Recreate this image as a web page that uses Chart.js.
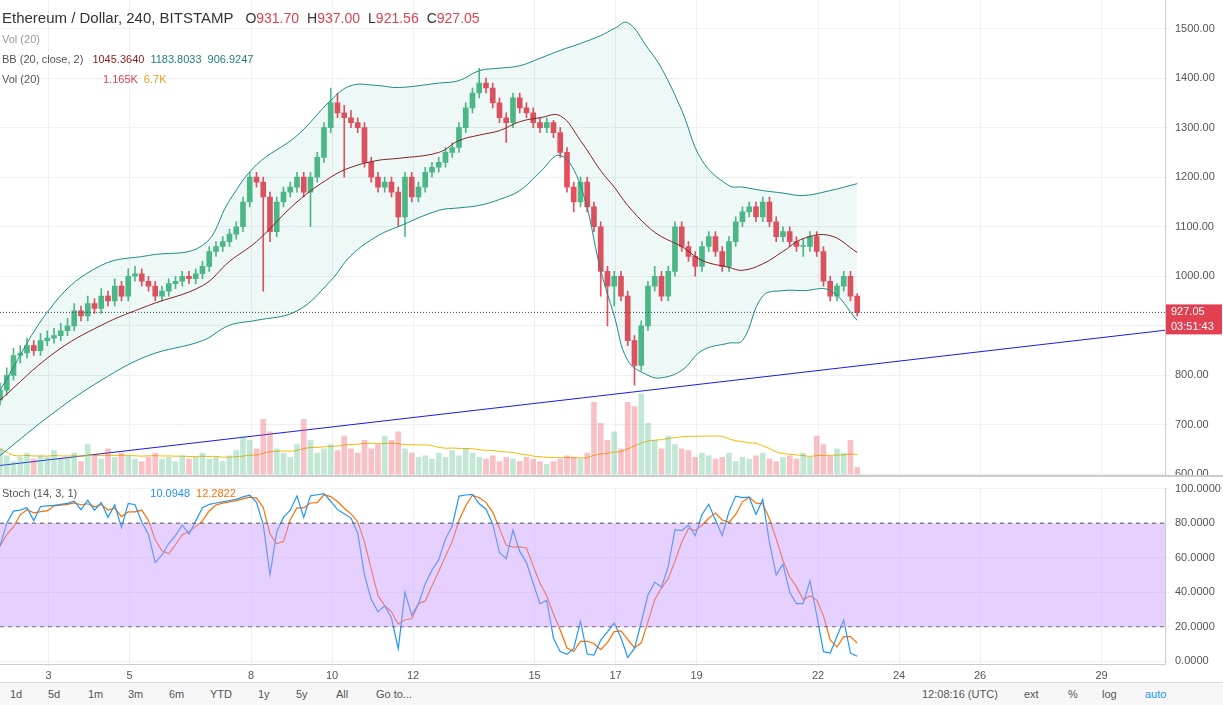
<!DOCTYPE html>
<html><head><meta charset="utf-8">
<script src="https://cdn.jsdelivr.net/npm/chart.js@4"></script>
<style>
body{margin:0;width:1223px;height:705px;overflow:hidden;background:#fff;font-family:"Liberation Sans",Arial,sans-serif;position:relative}
#main{position:absolute;left:0;top:-12px}
#stoch{position:absolute;left:0;top:476px}
.lg{position:absolute;left:2px;font-size:11px;color:#555;white-space:nowrap}
.lg b{font-weight:normal;margin-left:6px}
#title{top:9px;font-size:15px;color:#333}
#title span{font-size:14px;margin-left:8px}
#bar{position:absolute;left:0;top:682px;width:1223px;height:23px;background:#f7f7f7;border-top:1px solid #ddd;font-size:11px;color:#555}
#bar span{position:absolute;top:5px}
#sep{position:absolute;left:0;top:475px;width:1223px;height:2px;background:#ccc}
</style></head><body>
<canvas id="main" width="1223" height="499"></canvas>
<div id="sep"></div>
<canvas id="stoch" width="1223" height="205"></canvas>
<div class="lg" id="title">Ethereum / Dollar, 240, BITSTAMP <span style="color:#333">O<b style="color:#e04050;margin:0">931.70</b></span><span>H<b style="color:#e04050;margin:0">937.00</b></span><span>L<b style="color:#e04050;margin:0">921.56</b></span><span>C<b style="color:#e04050;margin:0">927.05</b></span></div>
<div class="lg" style="top:33px;color:#999">Vol (20)</div>
<div class="lg" style="top:53px">BB (20, close, 2) <b style="color:#8b1a1a">1045.3640</b><b style="color:#1f7f7f">1183.8033</b><b style="color:#1f7f7f">906.9247</b></div>
<div class="lg" style="top:73px">Vol (20) <b style="color:#e04050;margin-left:60px">1.165K</b><b style="color:#e0a020">6.7K</b></div>
<div class="lg" style="top:487px">Stoch (14, 3, 1) <b style="color:#2196f3;margin-left:70px">10.0948</b><b style="color:#ff6d00">12.2822</b></div>
<div id="bar">
<span style="left:10px">1d</span><span style="left:48px">5d</span><span style="left:88px">1m</span><span style="left:128px">3m</span><span style="left:169px">6m</span><span style="left:210px">YTD</span><span style="left:258px">1y</span><span style="left:296px">5y</span><span style="left:336px">All</span><span style="left:376px">Go to...</span>
<span style="left:922px">12:08:16 (UTC)</span><span style="left:1024px">ext</span><span style="left:1068px">%</span><span style="left:1102px">log</span><span style="left:1145px;color:#2196f3">auto</span>
</div>
<script>
const closes = [770,800,840,845,860,850,870,875,880,890,
 900,930,920,945,935,960,950,980,960,1000,
 1005,990,980,960,970,985,990,1000,995,1005,
 1020,1050,1060,1070,1085,1100,1150,1200,1190,1160,
 1090,1150,1170,1180,1200,1170,1200,1240,1300,1350,
 1330,1320,1310,1300,1230,1200,1180,1190,1170,1120,
 1200,1160,1180,1210,1220,1230,1250,1260,1300,1340,
 1370,1390,1380,1350,1320,1310,1360,1340,1330,1310,
 1300,1310,1290,1250,1180,1150,1190,1140,1100,1010,
 980,1000,960,870,820,900,980,1000,960,1010,
 1100,1060,1040,1020,1060,1080,1050,1020,1070,1110,
 1130,1140,1120,1150,1110,1080,1090,1070,1060,1060,
 1080,1050,990,960,980,1000,960,927];
const firstOpen = 750;
const highs = [785,815,855,860,875,870,885,890,895,905,
 915,945,940,960,955,975,970,995,990,1015,
 1020,1015,1000,990,980,995,1000,1010,1010,1015,
 1030,1060,1070,1080,1095,1110,1160,1210,1210,1200,
 1170,1160,1180,1190,1210,1210,1210,1250,1310,1380,
 1370,1345,1335,1320,1310,1240,1210,1200,1200,1180,
 1210,1210,1190,1220,1230,1240,1260,1270,1310,1350,
 1380,1420,1400,1390,1360,1330,1370,1370,1350,1340,
 1320,1320,1315,1300,1260,1190,1200,1200,1150,1110,
 1020,1010,1010,970,880,910,990,1020,1010,1020,
 1110,1110,1070,1050,1070,1090,1090,1060,1080,1120,
 1140,1150,1150,1160,1160,1120,1100,1100,1080,1075,
 1090,1090,1060,1000,985,1010,1010,965];
const lows = [740,760,790,825,835,840,840,860,865,870,
 880,890,910,910,925,925,940,940,950,950,
 990,980,970,950,950,960,975,980,985,985,
 995,1010,1040,1050,1060,1075,1090,1140,1180,970,
 1070,1080,1140,1160,1170,1160,1100,1190,1230,1290,
 1320,1200,1300,1290,1220,1190,1170,1170,1160,1100,
 1080,1150,1150,1170,1200,1210,1220,1240,1250,1290,
 1330,1360,1370,1340,1310,1270,1300,1330,1320,1300,
 1290,1290,1280,1240,1170,1130,1140,1130,1090,960,
 900,940,950,860,780,810,890,970,950,950,
 1000,1050,1030,1000,1010,1050,1040,1010,1010,1060,
 1100,1120,1110,1110,1100,1070,1070,1060,1050,1040,
 1050,1040,980,950,950,970,950,920];
const volumes = [30,22,15,20,25,18,22,20,28,18,
 20,25,15,35,22,18,30,20,25,22,
 18,15,20,25,18,20,15,22,18,20,
 25,18,20,15,22,28,45,40,30,65,
 50,30,25,20,35,65,40,25,30,35,
 28,45,30,25,40,30,35,45,40,50,
 30,25,20,22,18,25,20,28,22,30,
 25,20,18,22,15,20,18,15,20,18,
 15,12,15,18,22,20,18,25,85,60,
 40,50,30,85,80,95,60,40,30,45,
 35,30,28,20,25,22,18,20,25,15,
 20,18,22,25,18,15,20,22,18,25,
 20,45,35,22,30,25,40,8];
const bandIdx = [0,8,15,22,30,34,38,44,49,52,56,59,65,68,71,74,77,80,83,86,89,91,93,96,98,101,104,108,110,113,116,119,123,127];
const bbUpper = [770,945,1022,1042,1062,1153,1225,1284,1355,1385,1385,1381,1390,1395,1415,1420,1425,1440,1456,1470,1486,1500,1512,1460,1420,1335,1234,1183,1180,1173,1168,1163,1173,1187];
const bbMid = [750,845,901,941,981,1030,1070,1150,1200,1220,1234,1238,1250,1274,1285,1294,1312,1320,1324,1274,1213,1180,1143,1100,1080,1060,1032,1018,1012,1025,1050,1076,1082,1048];
const bbLower = [638,725,790,840,870,901,911,930,991,1042,1082,1100,1133,1138,1143,1155,1173,1210,1244,1183,1012,920,830,800,795,810,850,865,870,960,971,971,971,911];
const trendLine = [{x:0,y:618},{x:172.6,y:891}];
const priceTicks = [600,700,800,900,1000,1100,1200,1300,1400,1500];
const stochTicks = [0,20,40,60,80,100];
const dayLabels = [3,5,8,10,12,15,17,19,22,24,26,29];
const lastPrice = 927.05;

const green = '#53b987', red = '#eb4d5c';
const opens = closes.map((c,i) => i === 0 ? firstOpen : closes[i-1]);
const up = closes.map((c,i) => c >= opens[i]);
const dayIdx = d => (d - 1.8) * 6;
const xMax = 172.6;

const sma = (arr, n) => arr.map((v,i) => {
  const s = arr.slice(Math.max(0,i-n+1), i+1);
  return s.reduce((a,b)=>a+b,0)/s.length;
});
const volMA = sma(volumes, 20);
const rawK = closes.map((c,i) => {
  const hh = Math.max(...highs.slice(Math.max(0,i-13), i+1));
  const ll = Math.min(...lows.slice(Math.max(0,i-13), i+1));
  return (c-ll)/(hh-ll)*100;
});
const stochD = sma(rawK, 3);

const fixW = w => function(axis){ axis.width = w; };

// linea punteada y etiqueta del precio
const priceTag = {
  id:'priceTag',
  afterDraw(chart){
    const {ctx, chartArea:a, scales:{y}} = chart;
    const py = y.getPixelForValue(lastPrice);
    ctx.save();
    ctx.setLineDash([1,2]); ctx.strokeStyle='#444'; ctx.lineWidth=1;
    ctx.beginPath(); ctx.moveTo(a.left,py); ctx.lineTo(a.right,py); ctx.stroke();
    ctx.setLineDash([]);
    ctx.fillStyle='#e04050'; ctx.fillRect(a.right+1, py-8, 56, 30);
    ctx.fillStyle='#fff'; ctx.font='11px "Liberation Sans"'; ctx.textBaseline='middle';
    ctx.fillText(lastPrice.toFixed(2), a.right+6, py);
    ctx.fillText('03:51:43', a.right+6, py+15);
    ctx.restore();
  }
};

new Chart(document.getElementById('main'), {
  plugins:[priceTag],
  data:{datasets:[
    {type:'line', data:bandIdx.map((x,i)=>({x, y:bbUpper[i]})), borderColor:'#1f8a8a', borderWidth:1, pointRadius:0, tension:0.4, fill:'+2', backgroundColor:'rgba(0,150,136,0.07)', yAxisID:'y'},
    {type:'line', data:bandIdx.map((x,i)=>({x, y:bbMid[i]})), borderColor:'#8b1a1a', borderWidth:1, pointRadius:0, tension:0.4, yAxisID:'y'},
    {type:'line', data:bandIdx.map((x,i)=>({x, y:bbLower[i]})), borderColor:'#1f8a8a', borderWidth:1, pointRadius:0, tension:0.4, yAxisID:'y'},
    {type:'bar', data:volumes.map((v,i)=>({x:i, y:v})), backgroundColor:up.map(u=>u?'rgba(83,185,135,0.35)':'rgba(235,77,92,0.35)'), barThickness:5, grouped:false, yAxisID:'yv'},
    {type:'line', data:volMA.map((v,i)=>({x:i, y:v})), borderColor:'#f5b800', borderWidth:1, pointRadius:0, tension:0.3, yAxisID:'yv'},
    {type:'line', data:trendLine, borderColor:'#1a1ae6', borderWidth:1, pointRadius:0, yAxisID:'y'},
    {type:'bar', data:closes.map((c,i)=>({x:i, y:[lows[i],highs[i]]})), backgroundColor:up.map(u=>u?green:red), barThickness:1, grouped:false, yAxisID:'y'},
    {type:'bar', data:closes.map((c,i)=>({x:i, y:[opens[i],c]})), backgroundColor:up.map(u=>u?green:red), barThickness:5, grouped:false, minBarLength:1, yAxisID:'y'}
  ]},
  options:{
    animation:false, responsive:false, events:[],
    layout:{padding:0, autoPadding:false},
    plugins:{legend:{display:false}, tooltip:{enabled:false}},
    scales:{
      x:{type:'linear', min:0, max:xMax, offset:false, display:true, ticks:{display:false}, border:{display:false},
         grid:{color:'#eef0f3', drawTicks:false, offset:false}, afterBuildTicks:ax=>{ax.ticks=dayLabels.map(d=>({value:dayIdx(d)}));}, afterFit:ax=>{ax.height=0;}},
      y:{position:'right', min:600, max:1556.5, afterFit:fixW(58), border:{color:'#ccc'},
         afterBuildTicks:ax=>{ax.ticks=priceTicks.map(v=>({value:v}));},
         ticks:{color:'#555', font:{size:11, family:'Liberation Sans'}, callback:v=>v.toFixed(2), padding:6},
         grid:{color:'#eef0f3', drawTicks:true, tickLength:4}},
      yv:{display:false, min:0, max:558}
    }
  }
});

new Chart(document.getElementById('stoch'), {
  data:{datasets:[
    {type:'line', data:[{x:0,y:80},{x:xMax,y:80}], borderColor:'#555', borderDash:[4,4], borderWidth:1, pointRadius:0, fill:'+1', backgroundColor:'rgba(200,150,255,0.45)'},
    {type:'line', data:[{x:0,y:20},{x:xMax,y:20}], borderColor:'#555', borderDash:[4,4], borderWidth:1, pointRadius:0},
    {type:'line', data:rawK.map((v,i)=>({x:i,y:v})), borderColor:'#2196f3', borderWidth:1.2, pointRadius:0},
    {type:'line', data:stochD.map((v,i)=>({x:i,y:v})), borderColor:'#ff6d00', borderWidth:1.2, pointRadius:0}
  ]},
  options:{
    animation:false, responsive:false, events:[],
    layout:{padding:0, autoPadding:false},
    plugins:{legend:{display:false}, tooltip:{enabled:false}},
    scales:{
      x:{type:'linear', min:0, max:xMax, afterFit:ax=>{ax.height=17;}, border:{color:'#ccc'},
         afterBuildTicks:ax=>{ax.ticks=dayLabels.map(d=>({value:dayIdx(d)}));},
         ticks:{color:'#555', font:{size:11, family:'Liberation Sans'}, maxRotation:0, autoSkip:false, padding:2,
                callback:(v)=>String(Math.round(v/6+1.8))},
         grid:{color:'#eef0f3', tickLength:3}},
      y:{position:'right', min:-1.6, max:100, afterFit:fixW(58), border:{color:'#ccc'},
         afterBuildTicks:ax=>{ax.ticks=stochTicks.map(v=>({value:v}));},
         ticks:{color:'#555', font:{size:11, family:'Liberation Sans'}, callback:v=>v.toFixed(4), padding:6},
         grid:{color:'#eef0f3', tickLength:4}}
    }
  }
});
</script>
</body></html>
